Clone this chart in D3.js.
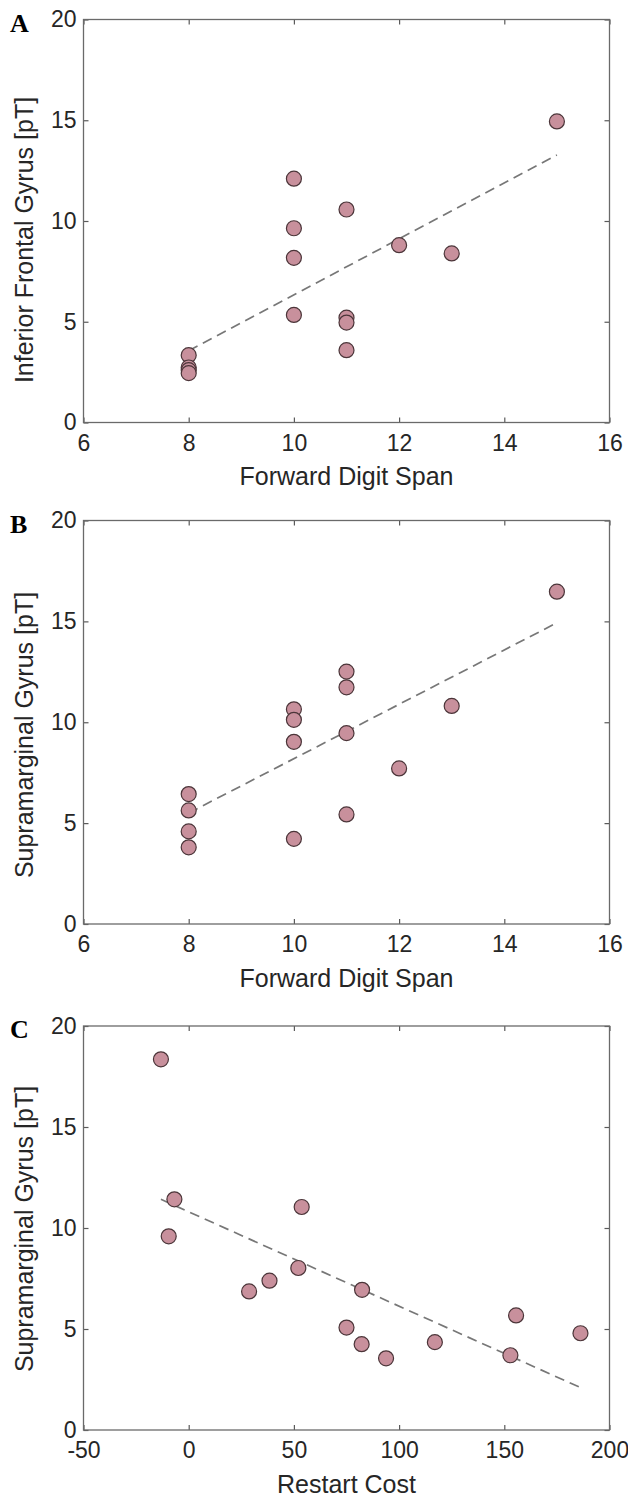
<!DOCTYPE html>
<html>
<head>
<meta charset="utf-8">
<script src="https://cdnjs.cloudflare.com/ajax/libs/d3/7.8.5/d3.min.js"></script>
<style>
  body { margin: 0; background: #fff; }
  svg text { font-family: "Liberation Sans", Arial, sans-serif; fill: #262626; }
</style>
</head>
<body>
<div id="Figure"></div>
<script>
// data
var panelLetters = ["A", "B", "C"];
var xTitles = ["Forward Digit Span", "Forward Digit Span", "Restart Cost"];
var yTitles = ["Inferior Frontal Gyrus [pT]", "Supramarginal Gyrus [pT]", "Supramarginal Gyrus [pT]"];

var digitSpanA = [8, 8, 8, 8, 10, 10, 10, 10, 11, 11, 11, 11, 12, 13, 15];
var ifgA = [3.34, 2.73, 2.6, 2.45, 12.1, 9.64, 8.17, 5.34, 10.57, 5.2, 4.96, 3.59, 8.8, 8.39, 14.94];
var fitA = [[8, 3.56], [15, 13.28]];

var digitSpanB = [8, 8, 8, 8, 10, 10, 10, 10, 11, 11, 11, 11, 12, 13, 15];
var smgB = [6.44, 5.63, 4.59, 3.8, 10.64, 10.12, 9.03, 4.22, 12.51, 11.73, 9.46, 5.43, 7.71, 10.81, 16.47];
var fitB = [[8, 5.5], [15, 14.93]];

var restartCostC = [-13.2, -6.8, -9.5, 53.7, 28.7, 38.4, 52.1, 75, 82.4, 82.2, 93.8, 117, 155.6, 152.9, 186.2];
var smgC = [18.35, 11.42, 9.59, 11.04, 6.86, 7.39, 8.02, 5.07, 6.94, 4.25, 3.55, 4.35, 5.67, 3.7, 4.79];
var fitC = [[-13.2, 11.42], [186.2, 2.1]];

var xTicksSpan = [6, 8, 10, 12, 14, 16];
var xTicksCost = [-50, 0, 50, 100, 150, 200];
var yTicks = [0, 5, 10, 15, 20];

var width = 628,
    height = 1501,
    plot_left = 83.5,
    plot_right = 609.5,
    tick_len = 5,
    dot_r = 7.5,
    panelTops = [19.5, 520.5, 1026],
    panelBottoms = [422.5, 924, 1430],
    yTitleCenters = [240, 735, 1229];

var panels = [
    {xs: digitSpanA, ys: ifgA, fit: fitA, xDomain: [6, 16], xTicks: xTicksSpan},
    {xs: digitSpanB, ys: smgB, fit: fitB, xDomain: [6, 16], xTicks: xTicksSpan},
    {xs: restartCostC, ys: smgC, fit: fitC, xDomain: [-50, 200], xTicks: xTicksCost}
];

var plainFormat = function(d) { return String(d); }; // hyphen, not unicode minus

var svg = d3.select("#Figure").append("svg")
    .attr("width", width)
    .attr("height", height);

panels.forEach(function(p, i) {
    var top = panelTops[i], bottom = panelBottoms[i];
    var x = d3.scaleLinear().domain(p.xDomain).range([plot_left, plot_right]);
    var y = d3.scaleLinear().domain([0, 20]).range([bottom, top]);
    var g = svg.append("g").attr("class", "panel");

    // axes with inward ticks, box on
    var xAxis = g.append("g")
        .attr("transform", "translate(0," + bottom + ")")
        .call(d3.axisBottom(x).tickValues(p.xTicks).tickFormat(plainFormat).tickSize(-tick_len).tickPadding(12));
    var xAxisTop = g.append("g")
        .attr("transform", "translate(0," + top + ")")
        .call(d3.axisTop(x).tickValues(p.xTicks).tickSize(-tick_len).tickFormat(""));
    var yAxis = g.append("g")
        .attr("transform", "translate(" + plot_left + ",0)")
        .call(d3.axisLeft(y).tickValues(yTicks).tickFormat(plainFormat).tickSize(-tick_len).tickPadding(7));
    var yAxisRight = g.append("g")
        .attr("transform", "translate(" + plot_right + ",0)")
        .call(d3.axisRight(y).tickValues(yTicks).tickSize(-tick_len).tickFormat(""));
    [xAxis, xAxisTop, yAxis, yAxisRight].forEach(function(a) {
        a.select(".domain").remove();
        a.selectAll(".tick line").attr("stroke", "#5a5a5a").attr("stroke-width", 1.2);
        a.selectAll(".tick text").attr("font-size", 23).attr("fill", "#262626")
            .style("font-family", "'Liberation Sans', Arial, sans-serif");
    });
    g.append("rect")
        .attr("x", plot_left)
        .attr("y", top)
        .attr("width", plot_right - plot_left)
        .attr("height", bottom - top)
        .attr("fill", "none")
        .attr("stroke", "#6a6a6a")
        .attr("stroke-width", 1.3);

    // regression line
    g.append("line")
        .attr("x1", x(p.fit[0][0]))
        .attr("y1", y(p.fit[0][1]))
        .attr("x2", x(p.fit[1][0]))
        .attr("y2", y(p.fit[1][1]))
        .attr("stroke", "#777777")
        .attr("stroke-width", 1.7)
        .attr("stroke-dasharray", "10,6");

    // points
    g.selectAll("circle.dot")
        .data(p.xs.map(function(d, k) { return [d, p.ys[k]]; }))
        .enter().append("circle")
            .attr("class", "dot")
            .attr("cx", function(d) { return x(d[0]); })
            .attr("cy", function(d) { return y(d[1]); })
            .attr("r", dot_r)
            .attr("fill", "#c8909c")
            .attr("stroke", "#4b3539")
            .attr("stroke-width", 1.2);

    // titles
    g.append("text")
        .attr("x", (plot_left + plot_right) / 2)
        .attr("y", bottom + 54)
        .attr("dy", "0.35em")
        .attr("text-anchor", "middle")
        .attr("font-size", 25)
        .text(xTitles[i]);
    g.append("text")
        .attr("transform", "translate(24," + yTitleCenters[i] + ") rotate(-90)")
        .attr("dy", "0.35em")
        .attr("text-anchor", "middle")
        .attr("font-size", 25)
        .text(yTitles[i]);
    g.append("text")
        .attr("x", 10)
        .attr("y", top + 12)
        .attr("font-size", 26)
        .attr("font-weight", "bold")
        .style("font-family", "'Liberation Serif', 'Times New Roman', serif")
        .style("fill", "#000")
        .text(panelLetters[i]);
});
</script>
</body>
</html>
